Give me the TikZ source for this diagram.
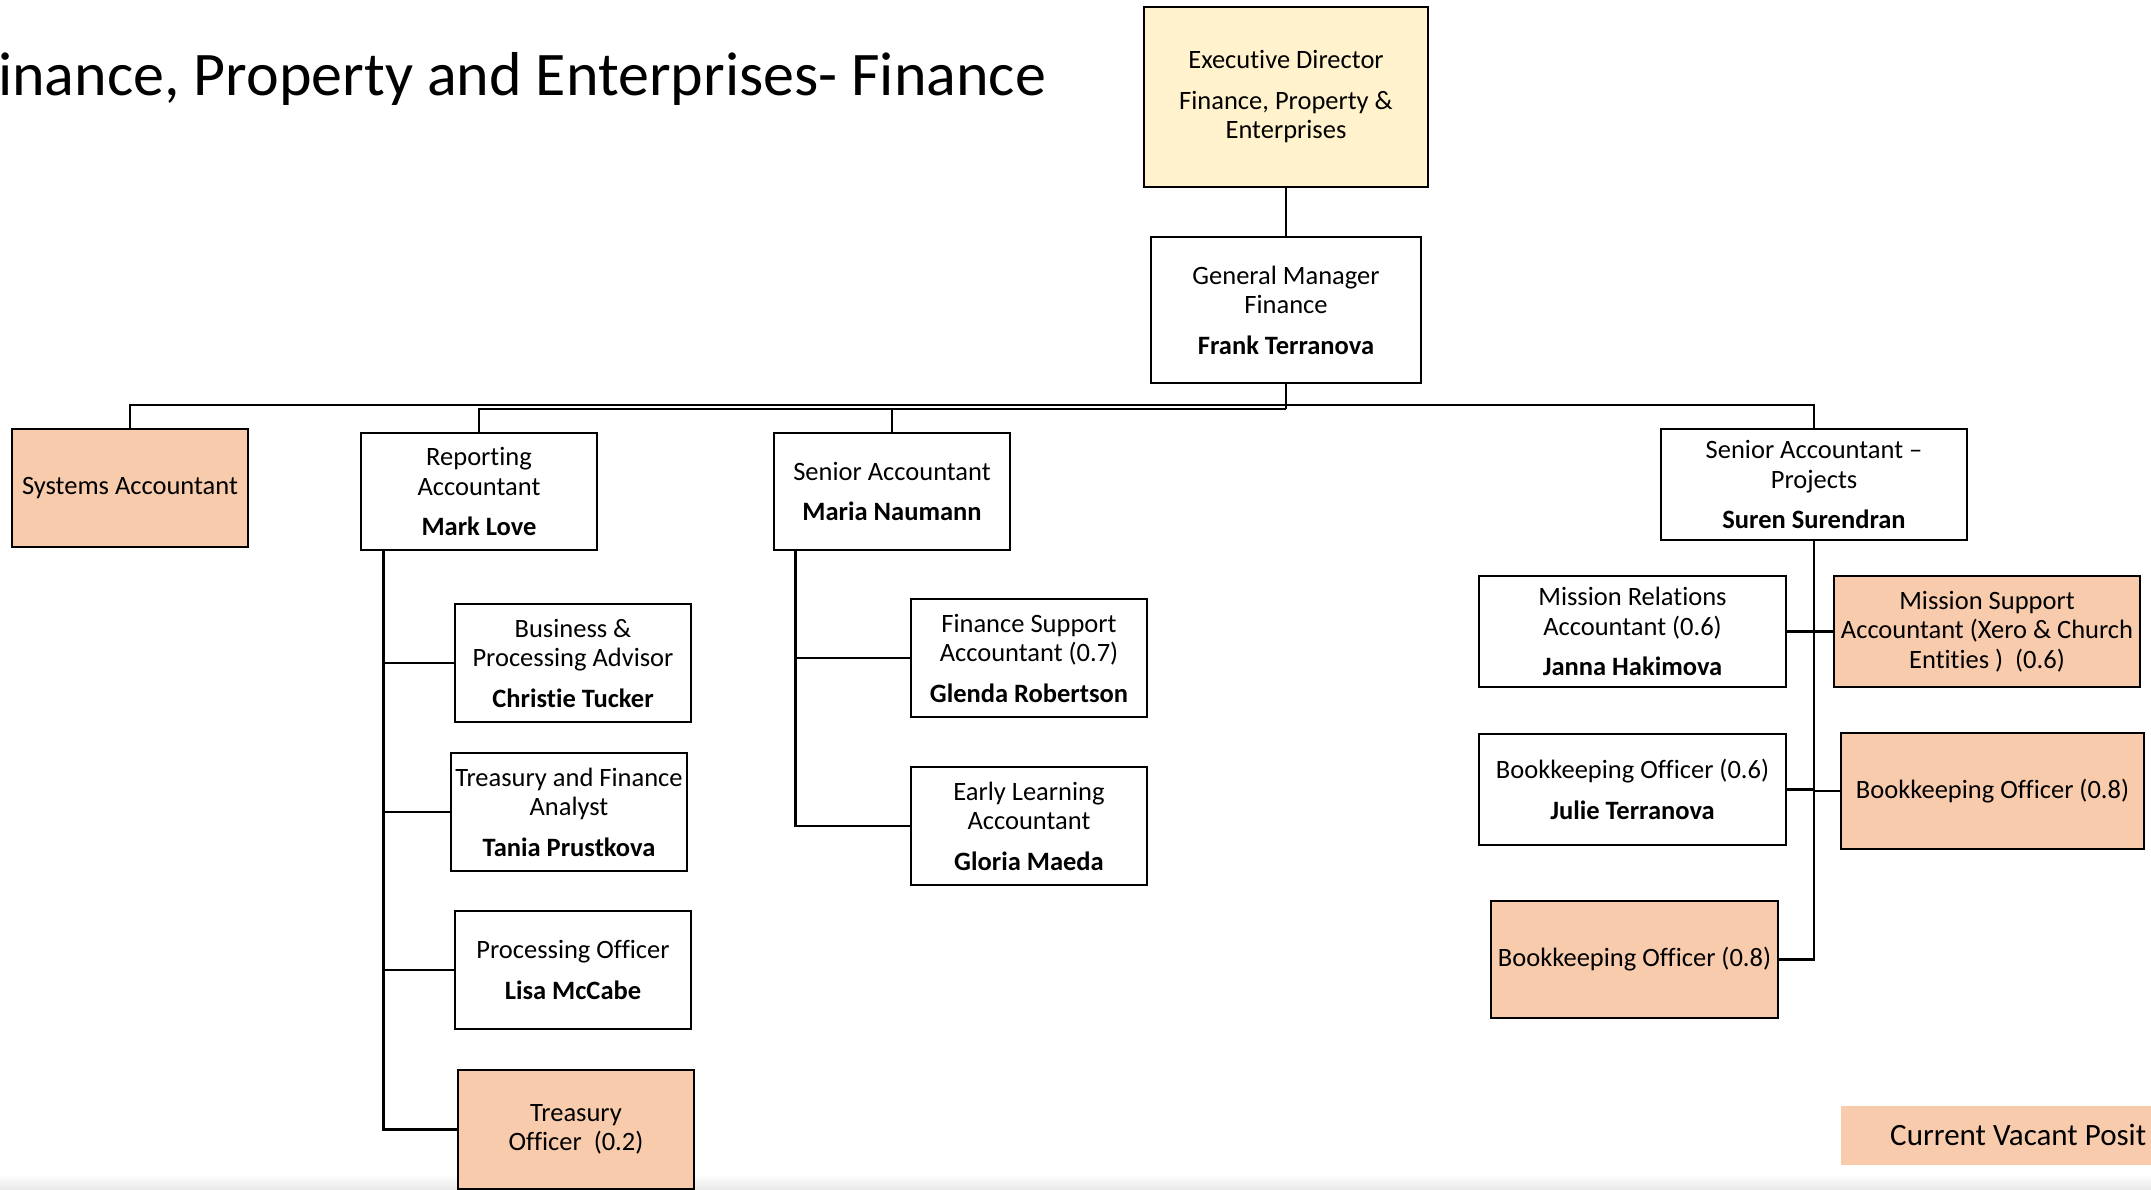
\documentclass[tikz,border=0pt]{standalone}
\usepackage{fontspec}
\setmainfont{Carlito}[Ligatures=NoCommon]
\definecolor{vacant}{HTML}{F8CBAD}
\definecolor{execfill}{HTML}{FFF2CC}
\begin{document}
\begin{tikzpicture}[x=1pt,y=-1pt,
  box/.style={draw=black, line width=2.6pt, fill=white, inner sep=0pt, align=center,
              font=\fontsize{26.5}{29.5}\selectfont},
  vac/.style={box, fill=vacant},
  wh/.style 2 args={minimum width=#1pt, minimum height=#2pt},
  link/.style={draw=black, line width=2.6pt}]
\useasboundingbox (0,0) rectangle (2151,1190);
\begin{scope}
\clip (0,0) rectangle (2151,1190);
\shade[top color=white, bottom color=black!9] (0,1174) rectangle (2151,1190);

% title
\node (title) [anchor=base west, inner sep=0pt, font=\fontsize{62}{72}\selectfont] at (-2,96)
  {inance, Property and Enterprises- Finance};

% top
\node[box, fill=execfill, wh={284}{180}] (exec) at (1286,97)
  {Executive Director\\[11pt]Finance, Property \&\\Enterprises};
\node[box, wh={270}{146}] (gm) at (1286,310)
  {General Manager\\Finance\\[11pt]\textbf{Frank Terranova}};

% second level
\node[vac, wh={236}{118}] (sys) at (130,488) {Systems Accountant};
\node[box, wh={236}{117}] (rep) at (479,491.5)
  {Reporting\\Accountant\\[11pt]\textbf{Mark Love}};
\node[box, wh={236}{117}] (sa) at (892,491.5)
  {Senior Accountant\\[11pt]\textbf{Maria Naumann}};
\node[box, wh={306}{111}] (sap) at (1814,484.5)
  {Senior Accountant --\\Projects\\[11pt]\textbf{Suren Surendran}};

% reporting team
\node[box, wh={236}{118}] (bus) at (573,663)
  {Business \&\\Processing Advisor\\[11pt]\textbf{Christie Tucker}};
\node[box, wh={236}{118}] (tfa) at (569,812)
  {Treasury and Finance\\Analyst\\[11pt]\textbf{Tania Prustkova}};
\node[box, wh={236}{118}] (proc) at (573,970)
  {Processing Officer\\[11pt]\textbf{Lisa McCabe}};
\node[vac, wh={236}{119}] (treas) at (576,1129.5)
  {Treasury\\Officer\ \ (0.2)};

% senior accountant team
\node[box, wh={236}{118}] (fsa) at (1029,658)
  {Finance Support\\Accountant (0.7)\\[11pt]\textbf{Glenda Robertson}};
\node[box, wh={236}{118}] (ela) at (1029,826)
  {Early Learning\\Accountant\\[11pt]\textbf{Gloria Maeda}};

% projects team
\node[box, wh={307}{111}] (mra) at (1632.5,631.5)
  {Mission Relations\\Accountant (0.6)\\[11pt]\textbf{Janna Hakimova}};
\node[vac, wh={306}{111}] (msa) at (1987,631.5)
  {Mission Support\\Accountant (Xero \& Church\\Entities )\ \ (0.6)};
\node[box, wh={307}{111}] (bk6) at (1632.5,789.5)
  {Bookkeeping Officer (0.6)\\[11pt]\textbf{Julie Terranova}};
\node[vac, wh={303}{116}] (bk8r) at (1992.5,791)
  {Bookkeeping Officer (0.8)};
\node[vac, wh={287}{117}] (bk8b) at (1634.5,959.5)
  {Bookkeeping Officer (0.8)};

% legend
\node[fill=vacant, inner sep=0pt, anchor=north west, wh={330}{59}] (legend) at (1841,1106) {};
\node[anchor=base west, inner sep=0pt, font=\fontsize{31}{36}\selectfont] (legtext) at (1890,1145)
  {Current Vacant Posit};

% connectors
\coordinate (bar1) at (1286,405);
\coordinate (bar2) at (1286,409);
\draw[link] (exec.south) -- (gm.north);
\draw[link] (gm.south) -- (bar2);
\draw[link] (bar1) -| (sys.north);
\draw[link] (bar1) -| (sap.north);
\draw[link] (bar2) -| (rep.north);
\draw[link] (bar2) -| (sa.north);

\coordinate (rs) at ([xshift=24pt]rep.south west);
\draw[link] (rs) |- (bus.west);
\draw[link] (rs) |- (tfa.west);
\draw[link] (rs) |- (proc.west);
\draw[link] (rs) |- (treas.west);

\coordinate (ss) at ([xshift=23pt]sa.south west);
\draw[link] (ss) |- (fsa.west);
\draw[link] (ss) |- (ela.west);

\draw[link] (sap.south) |- (mra.east);
\draw[link] (sap.south) |- (msa.west);
\draw[link] (sap.south) |- (bk6.east);
\draw[link] (sap.south) |- (bk8r.west);
\draw[link] (sap.south) |- (bk8b.east);
\end{scope}
\end{tikzpicture}
\end{document}
